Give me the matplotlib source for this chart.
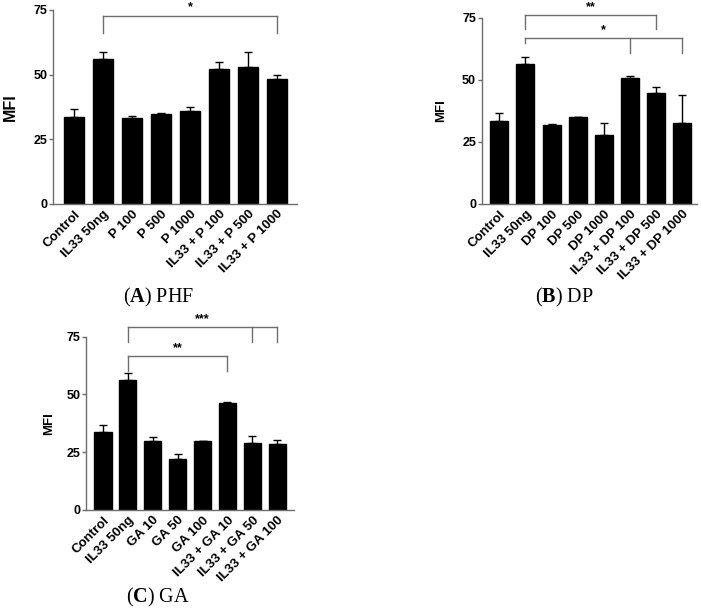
import matplotlib
matplotlib.use('Agg')
from matplotlib import pyplot as plt

plt.rcParams['font.family'] = ['Liberation Sans', 'DejaVu Sans']
plt.rcParams['mathtext.fontset'] = 'custom'
plt.rcParams['mathtext.rm'] = 'Liberation Serif'
plt.rcParams['mathtext.bf'] = 'Liberation Serif:bold'

# panel A - PHF
labels_a = ['Control', 'IL33 50ng', 'P 100', 'P 500', 'P 1000',
            'IL33 + P 100', 'IL33 + P 500', 'IL33 + P 1000']
mfi_a = [33.5, 56.2, 33.2, 34.7, 36.1, 52.2, 53.1, 48.2]
err_a = [3.1, 2.7, 0.9, 0.4, 1.5, 2.7, 5.5, 1.5]

# panel B - DP
labels_b = ['Control', 'IL33 50ng', 'DP 100', 'DP 500', 'DP 1000',
            'IL33 + DP 100', 'IL33 + DP 500', 'IL33 + DP 1000']
mfi_b = [33.5, 56.2, 31.7, 34.9, 27.9, 50.9, 44.6, 32.7]
err_b = [3.3, 2.9, 0.4, 0.0, 4.7, 0.6, 2.4, 11.3]

# panel C - GA
labels_c = ['Control', 'IL33 50ng', 'GA 10', 'GA 50', 'GA 100',
            'IL33 + GA 10', 'IL33 + GA 50', 'IL33 + GA 100']
mfi_c = [33.6, 56.1, 30.0, 21.9, 29.7, 46.4, 29.1, 28.4]
err_c = [3.0, 3.0, 1.5, 2.2, 0.3, 0.5, 2.8, 2.0]

# significance brackets: (start bar, end bar, top, [(leg bar, leg bottom)], stars)
sig_a = [(1, 7, 72.8, [(1, 66.0), (7, 66.0)], '*')]
sig_b = [(1, 6, 76.1, [(1, 70.5), (6, 70.5)], '**'),
         (1, 7, 66.7, [(1, 64.8), (5, 60.8), (7, 60.8)], '*')]
sig_c = [(1, 7, 79.3, [(1, 72.8), (6, 72.8), (7, 72.8)], '***'),
         (1, 5, 66.6, [(1, 60.3), (5, 60.3)], '**')]

grey = '#6e6e6e'

fig = plt.figure(figsize=(7.01, 6.12), dpi=100)


def panel(rect, xlim, labels, vals, errs, sigs, lab_x, mfi_size):
    ax = fig.add_axes(rect)
    x = list(range(len(vals)))
    ax.bar(x, vals, width=0.69, color='black', edgecolor='black')
    ax.errorbar(x, vals, yerr=[[0] * len(errs), errs], fmt='none',
                ecolor='black', elinewidth=1, capsize=3, capthick=1)
    ax.set_xlim(*xlim)
    ax.set_ylim(0, 75)
    ax.set_yticks([0, 25, 50, 75])
    ax.set_xticks(x)
    ax.set_xticklabels(labels, rotation=45, ha='right', rotation_mode='anchor',
                       fontsize=9.5, fontweight='bold')
    for t in ax.get_yticklabels():
        t.set_fontsize(9)
        t.set_fontweight('bold')
    ax.tick_params(axis='x', length=0, pad=3)
    ax.tick_params(axis='y', length=3, width=1, color=grey, pad=1)
    for s in ['top', 'right']:
        ax.spines[s].set_visible(False)
    for s in ['left', 'bottom']:
        ax.spines[s].set_color(grey)
        ax.spines[s].set_linewidth(1)
    ax.set_ylabel('MFI', fontsize=mfi_size, fontweight='bold')
    ax.yaxis.set_label_coords(lab_x, 0.5)
    for x1, x2, top, legs, star in sigs:
        ax.plot([x1, x2], [top, top], color=grey, lw=1, clip_on=False)
        for lx, low in legs:
            ax.plot([lx, lx], [top, low], color=grey, lw=1, clip_on=False)
        ax.text((x1 + x2) / 2, top + 0.8, star, ha='center', va='bottom',
                fontsize=9, fontweight='bold', clip_on=False)
    return ax


panel([0.0756, 0.6667, 0.348, 0.317], (-0.72, 7.69), labels_a, mfi_a, err_a,
      sig_a, -0.143, 11.5)
panel([0.687, 0.6667, 0.3067, 0.3044], (-0.68, 7.56), labels_b, mfi_b, err_b,
      sig_b, -0.161, 9.5)
panel([0.1227, 0.1667, 0.2967, 0.2832], (-0.68, 7.67), labels_c, mfi_c, err_c,
      sig_c, -0.149, 9.5)

cap_kw = dict(ha='center', va='center', fontsize=14.5, family='Liberation Serif')
fig.text(159 / 701, 1 - 297 / 612, r'($\mathbf{A}$) PHF', **cap_kw)
fig.text(564 / 701, 1 - 297 / 612, r'($\mathbf{B}$) DP', **cap_kw)
fig.text(158 / 701, 1 - 597 / 612, r'($\mathbf{C}$) GA', **cap_kw)

fig.savefig('out.png', dpi=100)
